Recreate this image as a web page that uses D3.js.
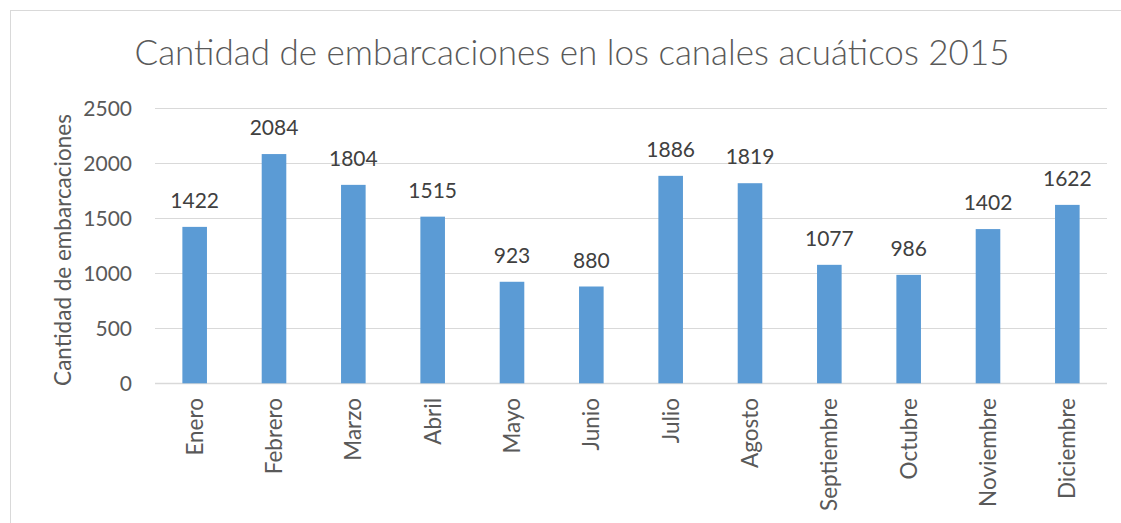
<!DOCTYPE html>
<html>
<head>
<meta charset="UTF-8">
<title>Cantidad de embarcaciones</title>
<style>
    body { margin: 0; padding: 0; background: #fff; }
    svg { display: block; }
    text { font-family: Lato, "Open Sans", sans-serif; fill: #595959; }
</style>
</head>
<body>
<svg width="1121" height="523"></svg>
<script src="https://d3js.org/d3.v7.min.js"></script>
<script>
    var months = ["Enero", "Febrero", "Marzo", "Abril", "Mayo", "Junio",
                  "Julio", "Agosto", "Septiembre", "Octubre", "Noviembre", "Diciembre"];
    var boats = [1422, 2084, 1804, 1515, 923, 880, 1886, 1819, 1077, 986, 1402, 1622];
    var yTicks = [0, 500, 1000, 1500, 2000, 2500];
    var title = "Cantidad de embarcaciones en los canales acuáticos 2015";
    var yTitle = "Cantidad de embarcaciones";

    var svg = d3.select("svg"),
        plotLeft = 155, plotRight = 1107, plotTop = 108.3, plotBottom = 383.3;

    // chart frame (right and bottom edges fall outside the picture)
    svg.append("rect")
        .attr("x", 10.5).attr("y", 10.5)
        .attr("width", 1130).attr("height", 560)
        .attr("fill", "none")
        .attr("stroke", "#d9d9d9");

    var x = d3.scaleBand()
        .domain(months)
        .range([plotLeft, plotRight])
        .paddingInner(0.69)
        .paddingOuter(0.345);

    var y = d3.scaleLinear()
        .domain([0, 2500])
        .range([plotBottom, plotTop]);

    // gridlines
    svg.append("g")
        .selectAll("line")
        .data(yTicks)
        .enter().append("line")
        .attr("x1", plotLeft).attr("x2", plotRight)
        .attr("y1", function (d) { return Math.round(y(d)) + 0.5; })
        .attr("y2", function (d) { return Math.round(y(d)) + 0.5; })
        .attr("stroke", "#d9d9d9")
        .attr("stroke-width", function (d) { return d === 0 ? 1.5 : 1; });

    // y tick labels
    svg.append("g")
        .selectAll("text")
        .data(yTicks)
        .enter().append("text")
        .attr("x", 132)
        .attr("y", function (d) { return y(d) + 7.5; })
        .attr("text-anchor", "end")
        .style("font-size", "21px")
        .text(function (d) { return d; });

    // bars
    svg.append("g")
        .selectAll("rect")
        .data(boats)
        .enter().append("rect")
        .attr("x", function (d, i) { return x(months[i]); })
        .attr("width", x.bandwidth())
        .attr("y", function (d) { return y(d); })
        .attr("height", function (d) { return y(0) - y(d); })
        .attr("fill", "#5b9bd5");

    // value labels
    svg.append("g")
        .selectAll("text")
        .data(boats)
        .enter().append("text")
        .attr("x", function (d, i) { return x(months[i]) + x.bandwidth() / 2; })
        .attr("y", function (d) { return y(d) - 19; })
        .attr("text-anchor", "middle")
        .style("font-size", "21px")
        .style("fill", "#404040")
        .text(function (d) { return d; });

    // month labels, rotated
    svg.append("g")
        .selectAll("text")
        .data(months)
        .enter().append("text")
        .attr("transform", function (d) {
            return "translate(" + (x(d) + x.bandwidth() / 2 + 8) + ",398) rotate(-90)";
        })
        .attr("text-anchor", "end")
        .style("font-size", "22.5px")
        .text(function (d) { return d; });

    // axis title
    svg.append("text")
        .attr("transform", "translate(71,250) rotate(-90)")
        .attr("text-anchor", "middle")
        .style("font-size", "22.5px")
        .text(yTitle);

    // chart title
    svg.append("text")
        .attr("x", 572)
        .attr("y", 65)
        .attr("text-anchor", "middle")
        .style("font-size", "35px")
        .style("font-weight", 300)
        .text(title);
</script>
</body>
</html>
